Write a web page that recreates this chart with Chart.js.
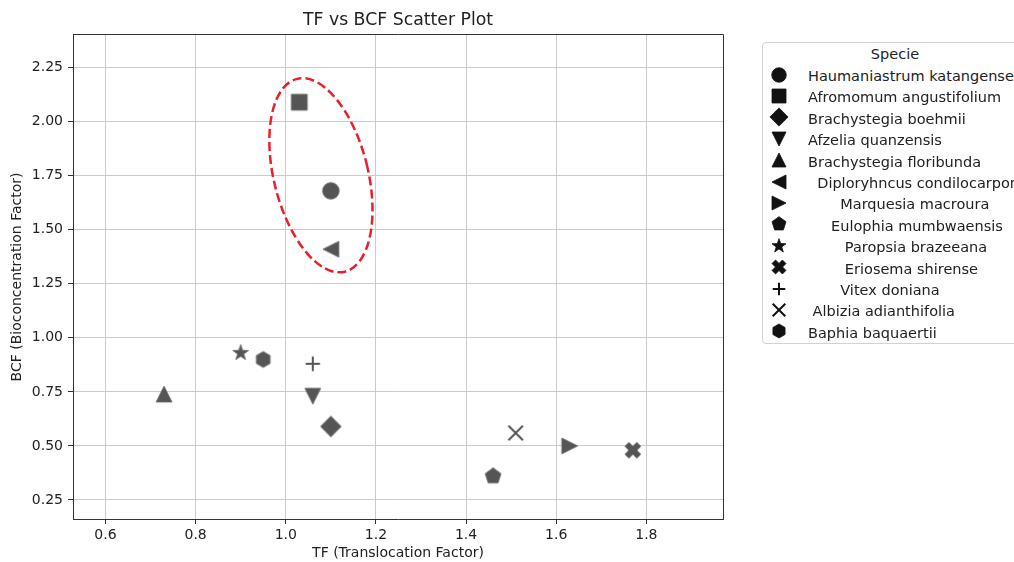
<!DOCTYPE html>
<html>
<head>
<meta charset="utf-8">
<script src="https://cdn.jsdelivr.net/npm/chart.js@4.4.0/dist/chart.umd.min.js"></script>
<style>
    html, body { margin: 0; padding: 0; background: #fff; overflow: hidden; width: 1014px; height: 562px; }
    #wrap { position: relative; width: 1014px; height: 562px; }
    #legend { position: absolute; left: 762px; top: 42px; width: 264px; height: 300px; border: 1px solid #d2d2d2; border-radius: 4px; background: #fff;
              font-family: "DejaVu Sans"; font-size: 14.5px; color: #222; }
    #legend .ttl { height: 23px; line-height: 23px; text-align: center; }
    #legend .row { position: relative; height: 21.4px; }
    #legend .row canvas { position: absolute; left: 4px; top: -3.3px; }
    #legend .row span { position: absolute; left: 45px; top: 0; line-height: 21.4px; white-space: pre; }
</style>
</head>
<body>
<div id="wrap">
    <canvas id="chart" width="1014" height="562"></canvas>
    <div id="legend"><div class="ttl">Specie</div></div>
</div>
<script>
// ================================================================
// DATA
// ================================================================
const species = [
    'Haumaniastrum katangense', 'Afromomum angustifolium', 'Brachystegia boehmii', 'Afzelia quanzensis',
    'Brachystegia floribunda', '  Diploryhncus condilocarpon', '       Marquesia macroura', '     Eulophia mumbwaensis',
    '        Paropsia brazeeana', '        Eriosema shirense', '       Vitex doniana', ' Albizia adianthifolia', 'Baphia baquaertii'
];
const tfValues  = [1.10, 1.03, 1.10, 1.06, 0.73, 1.10, 1.63, 1.46, 0.90, 1.77, 1.06, 1.51, 0.95];
const bcfValues = [1.68, 2.09, 0.59, 0.73, 0.74, 1.41, 0.50, 0.36, 0.93, 0.48, 0.88, 0.56, 0.90];
const markerShapes = ['o', 's', 'D', 'v', '^', '<', '>', 'p', '*', 'X', '+', 'x', 'h'];
const xTicks = [0.6, 0.8, 1.0, 1.2, 1.4, 1.6, 1.8];
const yTicks = [0.25, 0.50, 0.75, 1.00, 1.25, 1.50, 1.75, 2.00, 2.25];

// dashed highlight ellipse: centre and upper tip of the long axis, in data units
const ringCenter = [1.078, 1.752];
const ringTip    = [1.025, 2.198];

// ================================================================
// MARKERS
// ================================================================
function makeMarker(shape, s, fill, edge) {
    const dim = 2 * Math.ceil(s * 1.4 + 2);
    const c = document.createElement('canvas');
    c.width = c.height = dim;
    const ctx = c.getContext('2d');
    ctx.translate(dim / 2, dim / 2);
    const poly = pts => { pts.forEach(([x, y], i) => i ? ctx.lineTo(x, y) : ctx.moveTo(x, y)); ctx.closePath(); };
    const ngon = (n, r, rot) => { const p = []; for (let i = 0; i < n; i++) { const a = rot + i * 2 * Math.PI / n; p.push([r * Math.cos(a), r * Math.sin(a)]); } poly(p); };
    let lineOnly = false;
    ctx.beginPath();
    switch (shape) {
        case 'o': ctx.arc(0, 0, s * 1.04, 0, Math.PI * 2); break;
        case 's': ctx.rect(-s, -s, 2 * s, 2 * s); break;
        case 'D': poly([[0, -s * 1.3], [s * 1.3, 0], [0, s * 1.3], [-s * 1.3, 0]]); break;
        case '^': poly([[0, -s], [s, s], [-s, s]]); break;
        case 'v': poly([[0, s], [s, -s], [-s, -s]]); break;
        case '<': poly([[-s, 0], [s, -s], [s, s]]); break;
        case '>': poly([[s, 0], [-s, -s], [-s, s]]); break;
        case 'p': ngon(5, s * 1.05, -Math.PI / 2); break;
        case 'h': ngon(6, s, -Math.PI / 2); break;
        case '*': {
            const p = [];
            for (let i = 0; i < 10; i++) {
                const r = i % 2 ? s * 0.42 : s * 1.05, a = -Math.PI / 2 + i * Math.PI / 5;
                p.push([r * Math.cos(a), r * Math.sin(a)]);
            }
            poly(p); break;
        }
        case 'X': {
            const e = s * 1.05, a = s * 0.36, k = Math.SQRT1_2;
            const p = [[a, e], [a, a], [e, a], [e, -a], [a, -a], [a, -e], [-a, -e], [-a, -a], [-e, -a], [-e, a], [-a, a], [-a, e]];
            poly(p.map(([x, y]) => [(x - y) * k, (x + y) * k])); break;
        }
        case '+': ctx.moveTo(-s * 0.9, 0); ctx.lineTo(s * 0.9, 0); ctx.moveTo(0, -s * 0.9); ctx.lineTo(0, s * 0.9); lineOnly = true; break;
        case 'x': ctx.moveTo(-s * 0.9, -s * 0.9); ctx.lineTo(s * 0.9, s * 0.9); ctx.moveTo(s * 0.9, -s * 0.9); ctx.lineTo(-s * 0.9, s * 0.9); lineOnly = true; break;
    }
    if (lineOnly) { ctx.lineWidth = 2; ctx.strokeStyle = fill; ctx.stroke(); }
    else { ctx.fillStyle = fill; ctx.fill(); ctx.lineWidth = 0.8; ctx.strokeStyle = edge; ctx.stroke(); }
    return c;
}

// ================================================================
// LEGEND (html)
// ================================================================
const legendEl = document.getElementById('legend');
species.forEach((name, i) => {
    const row = document.createElement('div'); row.className = 'row';
    row.appendChild(makeMarker(markerShapes[i], 7, '#111', '#111'));
    const txt = document.createElement('span'); txt.textContent = name;
    row.appendChild(txt);
    legendEl.appendChild(row);
});

// ================================================================
// CHART
// ================================================================
const align = p => Math.round(p - 0.5) + 0.5;

const framePlugin = {
    id: 'frame',
    beforeDatasetsDraw(chart) {
        const { ctx, chartArea: a } = chart;
        ctx.save();
        ctx.strokeStyle = '#333'; ctx.lineWidth = 1;
        ctx.beginPath();
        ctx.moveTo(align(a.left), align(a.top)); ctx.lineTo(align(a.right), align(a.top));
        ctx.lineTo(align(a.right), align(a.bottom));
        ctx.stroke();
        ctx.restore();
    }
};

const ringPlugin = {
    id: 'ring',
    afterDatasetsDraw(chart) {
        const { ctx, scales: { x, y } } = chart;
        const cx = x.getPixelForValue(ringCenter[0]), cy = y.getPixelForValue(ringCenter[1]);
        const tx = x.getPixelForValue(ringTip[0]),    ty = y.getPixelForValue(ringTip[1]);
        const major = Math.hypot(tx - cx, ty - cy);
        const rot = Math.atan2(tx - cx, cy - ty);
        ctx.save();
        ctx.strokeStyle = '#e8202a'; ctx.lineWidth = 2.5; ctx.setLineDash([9, 4]);
        ctx.beginPath();
        ctx.ellipse(cx, cy, major * 0.474, major, rot, 0, Math.PI * 2);
        ctx.stroke();
        ctx.restore();
    }
};

Chart.defaults.font.family = 'DejaVu Sans';
Chart.defaults.color = '#222';

new Chart(document.getElementById('chart').getContext('2d'), {
    type: 'scatter',
    data: {
        datasets: species.map((name, i) => ({
            label: name.trim(),
            data: [{ x: tfValues[i], y: bcfValues[i] }],
            pointStyle: makeMarker(markerShapes[i], 8, '#555', '#707070'),
            pointRadius: 8, pointHoverRadius: 8
        }))
    },
    options: {
        responsive: false,
        animation: false,
        devicePixelRatio: 1,
        events: [],
        layout: { padding: { left: 0, top: 0, right: 291, bottom: 0 } },
        plugins: {
            legend: { display: false },
            tooltip: { enabled: false },
            title: {
                display: true, text: 'TF vs BCF Scatter Plot', fullSize: false, color: '#222',
                font: { size: 17.3, weight: 'normal' }, padding: { top: 10, bottom: 4.2 }
            }
        },
        scales: {
            x: {
                type: 'linear', min: 0.528, max: 1.97,
                afterBuildTicks: s => { s.ticks = xTicks.map(v => ({ value: v })); },
                afterFit: s => { s.height = 43; },
                ticks: { callback: v => v.toFixed(1), font: { size: 14 }, padding: 3, maxRotation: 0, autoSkip: false },
                grid: { color: '#cbcbcb', lineWidth: 1, tickLength: 5, tickColor: '#333', tickWidth: 1 },
                border: { color: '#333', width: 1 },
                title: { display: true, text: 'TF (Translocation Factor)', font: { size: 14 }, padding: { top: 0, bottom: 0.6 } }
            },
            y: {
                type: 'linear', min: 0.162, max: 2.401,
                afterBuildTicks: s => { s.ticks = yTicks.map(v => ({ value: v })); },
                afterFit: s => { s.width = 73; },
                ticks: { callback: v => v.toFixed(2), font: { size: 14 }, padding: 5, autoSkip: false },
                grid: { color: '#cbcbcb', lineWidth: 1, tickLength: 5, tickColor: '#333', tickWidth: 1 },
                border: { color: '#333', width: 1 },
                title: { display: true, text: 'BCF (Bioconcentration Factor)', font: { size: 14 }, padding: { top: 8.6, bottom: 0 } }
            }
        }
    },
    plugins: [framePlugin, ringPlugin]
});
</script>
</body>
</html>
